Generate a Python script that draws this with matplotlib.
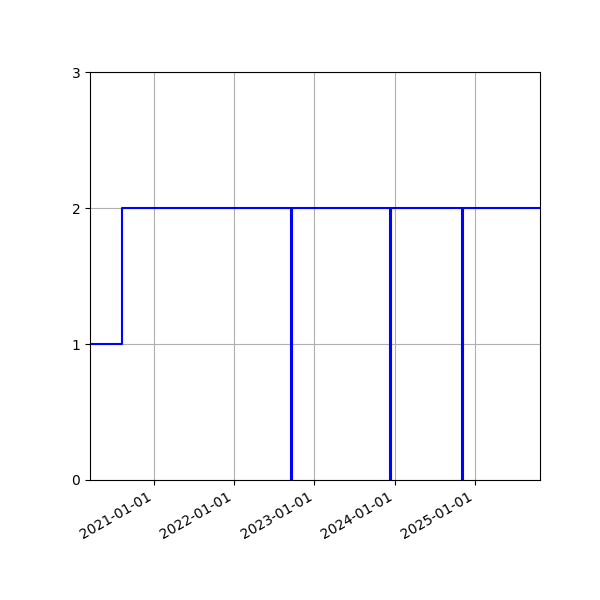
import matplotlib
matplotlib.use("Agg")
import matplotlib.pyplot as plt
import matplotlib.dates as mdates
import numpy as np
import datetime as dt

dates = ["2020-03-16", "2020-08-08", "2022-09-16", "2022-09-21",
         "2023-12-13", "2023-12-18", "2024-11-01", "2024-11-06", "2025-10-24"]
values = [1, 2, 0, 2, 0, 2, 0, 2, 2]

x = [dt.datetime.strptime(d, "%Y-%m-%d") for d in dates]

fig, ax = plt.subplots(figsize=(6, 6), dpi=100)
ax.step(x, values, where="post", color="blue")
ax.set_xlim(x[0], x[-1])
ax.set_ylim(0, 3)
ax.set_yticks([0, 1, 2, 3])
ax.xaxis.set_major_locator(mdates.YearLocator())
ax.xaxis.set_major_formatter(mdates.DateFormatter("%Y-%m-%d"))
ax.grid(True)
fig.autofmt_xdate()
fig.subplots_adjust(left=0.15, right=0.9)
fig.savefig("out.png")
